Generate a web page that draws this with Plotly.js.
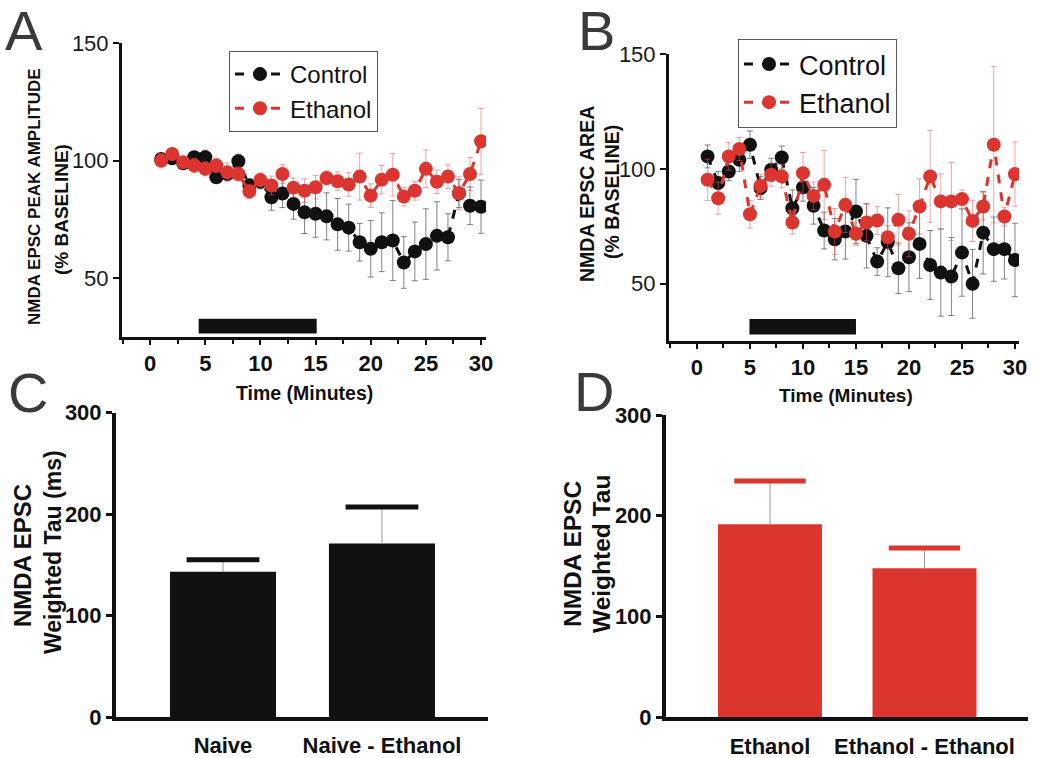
<!DOCTYPE html>
<html>
<head>
<meta charset="utf-8">
<script src="https://cdn.plot.ly/plotly-3.0.1.min.js"></script>
<style>html,body{margin:0;padding:0;background:#fff;}#chart{width:1050px;height:758px;}</style>
</head>
<body>
<div id="chart"></div>
<script>
// ---------- data ----------
const minutes = [1,2,3,4,5,6,7,8,9,10,11,12,13,14,15,16,17,18,19,20,21,22,23,24,25,26,27,28,29,30];

// Panel A: NMDA EPSC peak amplitude (% baseline)
const ampControl    = [100.7,101.0,98.9,101.4,101.4,92.9,94.3,99.7,89.4,91.0,84.4,86.0,81.6,78.0,77.4,76.3,72.9,71.5,65.3,62.5,65.3,66.0,56.7,61.4,64.5,68.0,67.4,86.0,80.8,80.4];
const ampControlSem = [2,2,2,2,3,2,2,3,3,3,5.5,6,6.5,9,10,10,11,10,8,12,12.5,17,11,12.5,15,14.5,10,6,8,11.3];
const ampEthanol    = [100.0,102.8,99.3,97.9,96.5,97.9,95.0,94.3,86.9,91.8,89.4,94.3,88.5,87.2,88.7,92.6,91.2,89.8,93.2,85.1,91.9,94.0,84.7,87.2,96.5,91.0,93.2,86.1,94.3,108.2];
const ampEthanolSem = [3,2,2,3,3,3,4,3,3,3,4,4,4,5,5,3,4,5,10,5,6,9,4,4,8,5,5,7,7,14];

// Panel B: NMDA EPSC area (% baseline)
const areaControl    = [105.4,93.8,98.8,103.9,110.5,91.6,99.6,104.9,82.8,91.9,83.9,73.1,69.3,72.7,81.4,70.8,59.6,68.0,56.7,61.5,67.3,58.1,54.8,53.1,63.5,49.9,72.2,65.0,65.0,60.3];
const areaControlSem = [5,5,4,5,6,5,5,5,8,6,8,8,9,12,14,14,6,15,11,15,15,15,19,17,19,15,18,14,13,16];
const areaEthanol    = [95.2,87.2,105.4,108.6,80.2,92.6,97.4,96.7,76.6,98.1,88.2,93.0,72.7,84.3,71.7,76.6,77.5,70.2,77.8,71.7,83.6,96.7,85.8,85.8,86.8,77.3,83.6,110.5,79.2,97.7];
const areaEthanolSem = [9,7,6,5,6,5,5,5,5,9,6,15,10,12,5,8,6,5,11,10,12,20,12,17,4,9,6,34,4,14];

// Drug application windows (minutes)
const drugWindowA = [4.4, 15.1];
const drugWindowB = [4.95, 15.0];

// Panel C / D: weighted tau
const naiveGroups   = ['Naive', 'Naive - Ethanol'];
const naiveTau      = [143, 171];
const naiveSem      = [12, 36];
const ethanolGroups = ['Ethanol', 'Ethanol - Ethanol'];
const ethanolTau    = [191.5, 148];
const ethanolSem    = [43, 20];

// ---------- styles ----------
const FONT = 'Liberation Sans, Arial, sans-serif';
const BLACK = '#111111';
const RED = '#dc3530';
const W = 1050, H = 758;
const px = v => v / W;
const py = v => 1 - v / H;

function lineTrace(y, sem, name, color, errColor, xa, ya, legend, show) {
  return {
    type: 'scatter', mode: 'lines+markers', x: minutes, y: y, name: name,
    xaxis: xa, yaxis: ya, legend: legend, showlegend: show,
    line: {color: color, width: 3, dash: 'dash'},
    marker: {color: color, size: 14, line: {width: 0}},
    error_y: {type: 'data', array: sem, visible: true, color: errColor, thickness: 1, width: 3}
  };
}

const zeros = a => a.map(() => 0);
const tops = (m, s) => m.map((v, i) => v + s[i]);

const traces = [
  lineTrace(ampControl, ampControlSem, 'Control', BLACK, 'rgba(90,90,90,0.75)', 'x', 'y', 'legend', true),
  lineTrace(ampEthanol, ampEthanolSem, 'Ethanol', RED, 'rgba(230,90,90,0.55)', 'x', 'y', 'legend', true),
  lineTrace(areaControl, areaControlSem, 'Control', BLACK, 'rgba(90,90,90,0.75)', 'x2', 'y2', 'legend2', true),
  lineTrace(areaEthanol, areaEthanolSem, 'Ethanol', RED, 'rgba(230,90,90,0.55)', 'x2', 'y2', 'legend2', true),
  {type: 'bar', x: naiveGroups, y: naiveTau, xaxis: 'x3', yaxis: 'y3', width: 0.667, showlegend: false,
   marker: {color: BLACK, line: {width: 0}},
   error_y: {type: 'data', symmetric: false, array: naiveSem, arrayminus: zeros(naiveSem), color: '#9a9a9a', thickness: 1, width: 0}},
  {type: 'scatter', mode: 'markers', x: naiveGroups, y: tops(naiveTau, naiveSem), xaxis: 'x3', yaxis: 'y3', showlegend: false,
   marker: {symbol: 'line-ew', size: 52, color: BLACK, line: {width: 5, color: BLACK}}},
  {type: 'bar', x: ethanolGroups, y: ethanolTau, xaxis: 'x4', yaxis: 'y4', width: 0.673, showlegend: false,
   marker: {color: RED, line: {width: 0}},
   error_y: {type: 'data', symmetric: false, array: ethanolSem, arrayminus: zeros(ethanolSem), color: '#9a9a9a', thickness: 1, width: 0}},
  {type: 'scatter', mode: 'markers', x: ethanolGroups, y: tops(ethanolTau, ethanolSem), xaxis: 'x4', yaxis: 'y4', showlegend: false,
   marker: {symbol: 'line-ew', size: 51, color: RED, line: {width: 5, color: RED}}}
];

function timeX(domain, range, anchor) {
  return {domain: domain, range: range, anchor: anchor, showline: true, linewidth: 3, linecolor: BLACK,
    ticks: 'outside', ticklen: 5, tickwidth: 2, tickcolor: BLACK, tick0: 0, dtick: 5,
    minor: {dtick: 2.5, ticks: 'outside', ticklen: 4, tickwidth: 2, tickcolor: BLACK},
    tickfont: {family: FONT, size: 22, color: BLACK, weight: 'bold'},
    showgrid: false, zeroline: false, fixedrange: true};
}
function pctY(domain, anchor) {
  return {domain: domain, range: [25, 150], anchor: anchor, showline: true, linewidth: 3, linecolor: BLACK,
    ticks: 'outside', ticklen: 6, tickwidth: 2, tickcolor: BLACK, tickvals: [50, 100, 150],
    tickfont: {family: FONT, size: 22, color: '#1a1a1a'},
    showgrid: false, zeroline: false, fixedrange: true};
}
function catX(domain, range, anchor) {
  return {domain: domain, range: range, anchor: anchor, type: 'category', showline: true, linewidth: 4, linecolor: BLACK,
    ticks: 'outside', ticklen: 6, tickcolor: 'rgba(0,0,0,0)',
    tickfont: {family: FONT, size: 22, color: BLACK, weight: 'bold'},
    showgrid: false, zeroline: false, fixedrange: true};
}
function tauY(domain, anchor) {
  return {domain: domain, range: [0, 300], anchor: anchor, showline: true, linewidth: 4, linecolor: BLACK,
    ticks: 'outside', ticklen: 6, tickwidth: 3, tickcolor: BLACK, tickvals: [0, 100, 200, 300],
    tickfont: {family: FONT, size: 22, color: BLACK, weight: 'bold'},
    showgrid: false, zeroline: false, fixedrange: true};
}

function ann(text, x, y, size, opts) {
  return Object.assign({text: text, xref: 'paper', yref: 'paper', x: px(x), y: py(y),
    xanchor: 'center', yanchor: 'middle', showarrow: false,
    font: {family: FONT, size: size, color: BLACK, weight: 'bold'}}, opts || {});
}
const letterFont = {family: FONT, size: 56, color: '#3a3a3a'};

const layout = {
  width: W, height: H, margin: {l: 0, r: 0, t: 0, b: 0},
  paper_bgcolor: '#ffffff', plot_bgcolor: '#ffffff',
  font: {family: FONT, color: BLACK},
  xaxis: timeX([px(122), px(486)], [-2.55, 30.45], 'y'),
  yaxis: pctY([py(337), py(43)], 'x'),
  xaxis2: timeX([px(669), px(1019)], [-2.64, 30.38], 'y2'),
  yaxis2: pctY([py(341), py(54)], 'x2'),
  xaxis3: catX([px(116), px(488)], [-0.673, 1.667], 'y3'),
  yaxis3: tauY([py(717), py(412.5)], 'x3'),
  xaxis4: catX([px(666), px(1028)], [-0.673, 1.670], 'y4'),
  yaxis4: tauY([py(717.3), py(415)], 'x4'),
  legend: {x: px(229), y: py(51), xanchor: 'left', yanchor: 'top', bgcolor: '#ffffff',
    bordercolor: '#555', borderwidth: 1, itemwidth: 50, tracegroupgap: 0,
    font: {family: FONT, size: 24, color: BLACK}},
  legend2: {x: px(738), y: py(39), xanchor: 'left', yanchor: 'top', bgcolor: '#ffffff',
    bordercolor: '#555', borderwidth: 1, itemwidth: 50, tracegroupgap: 0,
    font: {family: FONT, size: 27, color: BLACK}},
  shapes: [
    {type: 'rect', xref: 'x', yref: 'y', x0: drugWindowA[0], x1: drugWindowA[1], y0: 26.5, y1: 32.8,
     fillcolor: BLACK, line: {width: 0}},
    {type: 'rect', xref: 'x2', yref: 'y2', x0: drugWindowB[0], x1: drugWindowB[1], y0: 27.8, y1: 34.6,
     fillcolor: BLACK, line: {width: 0}}
  ],
  annotations: [
    ann('A', 24, 30, 56, {font: letterFont}),
    ann('B', 596, 31, 56, {font: letterFont}),
    ann('C', 28, 392, 56, {font: letterFont}),
    ann('D', 594, 391, 56, {font: letterFont}),
    ann('NMDA EPSC PEAK AMPLITUDE', 34, 197, 17, {textangle: -90}),
    ann('(% BASELINE)', 61, 210, 19, {textangle: -90}),
    ann('NMDA EPSC AREA', 587, 194, 19.5, {textangle: -90}),
    ann('(% BASELINE)', 612, 192, 19.5, {textangle: -90}),
    ann('Time (Minutes)', 304, 393, 19.5),
    ann('Time (Minutes)', 846, 395, 19),
    ann('NMDA EPSC', 22, 556, 24, {textangle: -90}),
    ann('Weighted Tau (ms)', 53, 552, 23, {textangle: -90}),
    ann('NMDA EPSC', 572, 554, 24.5, {textangle: -90}),
    ann('Weighted Tau', 601, 554, 24.5, {textangle: -90})
  ]
};

Plotly.newPlot('chart', traces, layout, {displayModeBar: false, staticPlot: true});
</script>
</body>
</html>
